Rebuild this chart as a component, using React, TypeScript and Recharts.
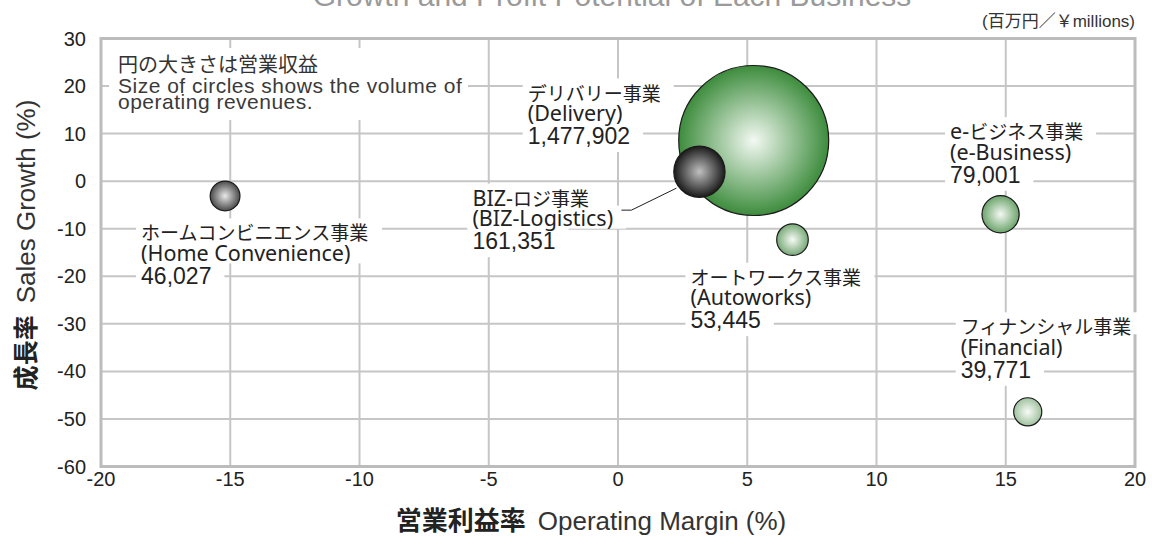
import React from 'react';
import {
  ScatterChart,
  Scatter,
  XAxis,
  YAxis,
  ZAxis,
  CartesianGrid,
  ReferenceArea,
  Customized,
} from 'recharts';

// ---------------- data ----------------
const businessNamesJa = [
  'ホームコンビニエンス事業',
  'デリバリー事業',
  'BIZ-ロジ事業',
  'オートワークス事業',
  'e-ビジネス事業',
  'フィナンシャル事業',
];
const businessNamesEn = [
  '(Home Convenience)',
  '(Delivery)',
  '(BIZ-Logistics)',
  '(Autoworks)',
  '(e-Business)',
  '(Financial)',
];
const operatingMargin = [-15.2, 5.25, 3.15, 6.75, 14.8, 15.85];
const salesGrowth = [-3.1, 8.55, 2.0, -12.3, -6.95, -48.5];
const operatingRevenue = [46027, 1477902, 161351, 53445, 79001, 39771];
const xTicks = [-20, -15, -10, -5, 0, 5, 10, 15, 20];
const yTicks = [-60, -50, -40, -30, -20, -10, 0, 10, 20, 30];

const data = businessNamesJa.map((ja, i) => ({
  idx: i,
  ja,
  en: businessNamesEn[i],
  x: operatingMargin[i],
  y: salesGrowth[i],
  z: operatingRevenue[i],
}));

// ---------------- styles ----------------
const bubbleGradients = [
  { id: 'g-home', inner: '#e8e8e8', outer: '#4a4a4a' },
  { id: 'g-delivery', inner: '#f3f9f2', outer: '#3d8c3d' },
  { id: 'g-biz', inner: '#c0c0c0', outer: '#1a1a1a' },
  { id: 'g-auto', inner: '#f6fbf5', outer: '#78a977' },
  { id: 'g-ebiz', inner: '#f3f9f2', outer: '#6ca46b' },
  { id: 'g-fin', inner: '#f8fbf7', outer: '#a0c29f' },
];
const labelOffsets = [
  { dx: -84, dy: 44.5 },
  { dx: -226, dy: -40 },
  { dx: -227, dy: 34 },
  { dx: -102, dy: 45 },
  { dx: -50.5, dy: -75 },
  { dx: -67, dy: -77.5 },
];
const leaderOffsets: Record<number, number[][]> = {
  2: [
    [-78, 38.5],
    [-68, 38.5],
    [-23, 16.5],
  ],
};

const JA_FONT = "'Noto Sans CJK JP'";
const EN_FONT = "'Noto Sans', 'Liberation Sans'";
const NUM_FONT = "'Liberation Sans'";
const TEXT = '#222';

let measureCtx: CanvasRenderingContext2D | null = null;
function measure(text: string, font: string, size: number): number {
  try {
    if (!measureCtx) measureCtx = document.createElement('canvas').getContext('2d');
    if (measureCtx) {
      measureCtx.font = `${size}px ${font}`;
      return measureCtx.measureText(text).width;
    }
  } catch (e) {
    /* ignore */
  }
  return text.length * size * 0.6;
}

const LINE_SHIFT = [0, 20.5, 43.5];
const JA_SIZE = 19;
const PREFIX_SIZE = 21.5;

function splitPrefix(s: string): [string, string] {
  const m = s.match(/^[A-Za-z-]+/);
  return m ? [m[0], s.slice(m[0].length)] : ['', s];
}

const Bubble = (props: any) => {
  const { cx, cy, size, payload } = props;
  if (cx == null || cy == null) return null;
  const i = payload.idx;
  const r = size != null ? Math.sqrt(size / Math.PI) : (props.width || 20) / 2;
  const off = labelOffsets[i];
  const lx = cx + off.dx;
  const by = cy + off.dy;
  const [prefix, rest] = splitPrefix(payload.ja);
  const numText = payload.z.toLocaleString('en-US');
  const widths = [
    measure(prefix, EN_FONT, PREFIX_SIZE) + measure(rest, JA_FONT, JA_SIZE),
    measure(payload.en, EN_FONT, 21.5),
    measure(numText, NUM_FONT, 23),
  ];
  const leader = leaderOffsets[i];
  return (
    <g>
      {widths.map((w, k) => {
        const yb = by + LINE_SHIFT[k];
        const top = yb - (k === 0 ? 22 : k === 1 ? 20.5 : 23);
        const h = k === 2 ? 23 + 8 : k === 0 ? 22 : 23;
        return <rect key={'r' + k} x={lx - 5} y={top} width={w + 18} height={h} fill="#fff" />;
      })}
      <text x={lx} y={by} fill={TEXT}>
        {prefix && (
          <tspan fontFamily={EN_FONT} fontSize={PREFIX_SIZE}>
            {prefix}
          </tspan>
        )}
        <tspan fontFamily={JA_FONT} fontSize={JA_SIZE}>
          {rest}
        </tspan>
      </text>
      <text x={lx} y={by + LINE_SHIFT[1]} fontFamily={EN_FONT} fontSize={21.5} fill={TEXT}>
        {payload.en}
      </text>
      <text x={lx} y={by + LINE_SHIFT[2]} fontFamily={NUM_FONT} fontSize={23} fill={TEXT}>
        {numText}
      </text>
      {leader && (
        <polyline
          points={leader.map((p) => `${cx + p[0]},${cy + p[1]}`).join(' ')}
          fill="none"
          stroke="#222"
          strokeWidth={1}
        />
      )}
      <circle
        cx={cx}
        cy={cy}
        r={r}
        fill={`url(#${bubbleGradients[i].id})`}
        stroke="#1a1a1a"
        strokeWidth={1.2}
      />
    </g>
  );
};

const Overlay = () => (
  <g>
    {/* title (cropped at the top edge) */}
    <text
      x={612}
      y={5.5}
      textAnchor="middle"
      fontFamily="'Liberation Sans'"
      fontSize={30}
      fill="#9a9a9a"
    >
      Growth and Profit Potential of Each Business
    </text>
    {/* unit */}
    <text
      x={1135}
      y={27}
      textAnchor="end"
      fontFamily="'Liberation Sans Narrow', 'Liberation Sans', 'Noto Sans CJK JP'"
      fontSize={17}
      fill="#333"
    >
      (百万円／￥millions)
    </text>
    {/* note */}
    <rect x={109} y={48} width={359} height={72} fill="#fff" />
    <text x={118} y={72} fontFamily="'Noto Sans CJK JP'" fontSize={20} fill="#333">
      円の大きさは営業収益
    </text>
    <text x={118} y={93} fontFamily="'Liberation Sans'" fontSize={21} letterSpacing={0.5} fill="#3a3a3a">
      Size of circles shows the volume of
    </text>
    <text x={118} y={109} fontFamily="'Liberation Sans'" fontSize={21} letterSpacing={0.5} fill="#3a3a3a">
      operating revenues.
    </text>
    {/* x-axis title */}
    <text x={591} y={530} textAnchor="middle" fill={TEXT}>
      <tspan fontFamily="'Noto Sans CJK JP'" fontWeight="bold" fontSize={26}>
        営業利益率
      </tspan>
      <tspan dx={12} fontFamily="'Liberation Sans'" fontSize={26} fill="#333">
        Operating Margin (%)
      </tspan>
    </text>
    {/* y-axis title */}
    <text transform="translate(35,245) rotate(-90)" textAnchor="middle" fill={TEXT}>
      <tspan fontFamily="'Noto Sans CJK JP'" fontWeight="bold" fontSize={25}>
        成長率
      </tspan>
      <tspan dx={12} fontFamily="'Liberation Sans'" fontSize={26} fill="#333">
        Sales Growth (%)
      </tspan>
    </text>
  </g>
);

export default function App() {
  return (
    <div style={{ position: 'absolute', left: 0, top: 0, width: 1152, height: 545, background: '#fff' }}>
      <svg width={0} height={0} style={{ position: 'absolute' }}>
        <defs>
          {bubbleGradients.map((g) => (
            <radialGradient key={g.id} id={g.id} cx="0.5" cy="0.5" r="0.5" fx="0.5" fy="0.5">
              <stop offset="0%" stopColor={g.inner} />
              <stop offset="100%" stopColor={g.outer} />
            </radialGradient>
          ))}
        </defs>
      </svg>
      <ScatterChart
        width={1152}
        height={545}
        margin={{ top: 38.5, right: 17, bottom: 38.5, left: 41 }}
      >
        <CartesianGrid stroke="#c6c6c6" strokeWidth={2} />
        <XAxis
          type="number"
          dataKey="x"
          domain={[-20, 20]}
          ticks={xTicks}
          interval={0}
          height={40}
          tickLine={false}
          axisLine={false}
          tickSize={4}
          tickMargin={1}
          tick={{ fill: TEXT, fontSize: 20, fontFamily: 'Liberation Sans' }}
        />
        <YAxis
          type="number"
          dataKey="y"
          domain={[-60, 30]}
          ticks={yTicks}
          interval={0}
          width={60}
          tickLine={false}
          axisLine={false}
          tickSize={6}
          tickMargin={9}
          tick={{ fill: TEXT, fontSize: 20, fontFamily: 'Liberation Sans' }}
        />
        <ZAxis type="number" dataKey="z" domain={[0, 1477902]} range={[150, 17671]} />
        <ReferenceArea
          x1={-20}
          x2={20}
          y1={-60}
          y2={30}
          fill="none"
          fillOpacity={0}
          stroke="#bcbcbc"
          strokeWidth={3}
          ifOverflow="visible"
        />
        <Customized component={Overlay} />
        <Scatter data={data} shape={Bubble} isAnimationActive={false} />
      </ScatterChart>
    </div>
  );
}
